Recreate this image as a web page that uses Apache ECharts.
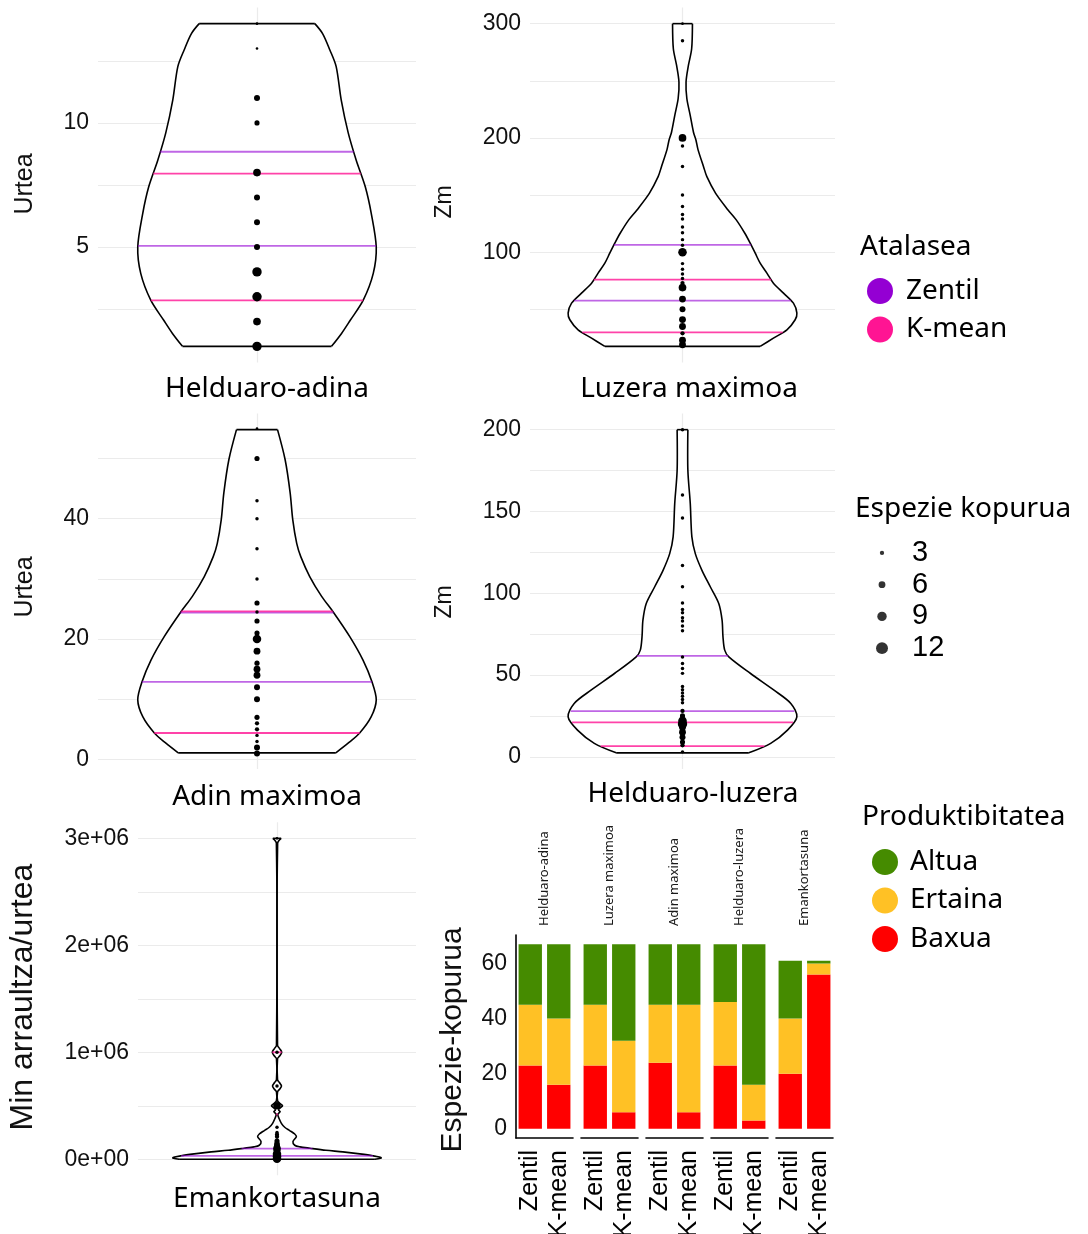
<!DOCTYPE html>
<html>
<head>
<meta charset="utf-8">
<script src="https://cdn.jsdelivr.net/npm/echarts@6/dist/echarts.min.js"></script>
<style>
html, body { margin: 0; padding: 0; background: #fff; }
#chart { width: 1088px; height: 1234px; }
</style>
</head>
<body>
<div id="chart"></div>
<script>
// ---------- data ----------
const violinNames = ['Helduaro-adina', 'Luzera maximoa', 'Adin maximoa', 'Helduaro-luzera', 'Emankortasuna'];
const violinTitles = ['Urtea', 'Zm', 'Urtea', 'Zm', 'Min arraultza/urtea'];

// violin outlines: [value, half-width relative to the widest point]
const profileHelduaroAdina = [[1, 0.625], [1.52, 0.709], [2.05, 0.782], [2.86, 0.891], [3.94, 0.975], [5.0, 1], [6.36, 0.958], [7.43, 0.908], [8.5, 0.832], [9.6, 0.765], [10.93, 0.706], [12.27, 0.664], [12.94, 0.611], [13.6, 0.55], [14, 0.485]];
const profileLuzeraMaximoa = [[17.6, 0.679], [24.8, 0.795], [32.1, 0.913], [40.9, 0.985], [46.7, 1], [55.4, 0.97], [64.2, 0.883], [72.9, 0.795], [81.7, 0.738], [90.4, 0.679], [99.1, 0.636], [107.9, 0.592], [116.6, 0.545], [128.3, 0.47], [137, 0.398], [151.5, 0.29], [166.1, 0.213], [174.8, 0.184], [190, 0.135], [198, 0.118], [205, 0.096], [220, 0.067], [234.5, 0.038], [249, 0.031], [263.6, 0.052], [278, 0.08], [300, 0.087]];
const profileAdinMaximoa = [[1.1, 0.661], [2.7, 0.764], [4.4, 0.861], [7.1, 0.958], [9.9, 1], [12.9, 0.964], [16.5, 0.889], [20.4, 0.778], [24.5, 0.639], [27.1, 0.542], [30.4, 0.442], [33.7, 0.367], [35.9, 0.333], [39.8, 0.3], [44.3, 0.278], [49.8, 0.236], [54.8, 0.172]];
const profileHelduaroLuzera = [[2.4, 0.58], [8.2, 0.771], [16.3, 0.918], [24.4, 1], [32.6, 0.947], [40.7, 0.8], [50.9, 0.595], [61.1, 0.405], [65.2, 0.369], [73.3, 0.354], [83.5, 0.346], [93.7, 0.317], [103.8, 0.244], [114, 0.17], [124.2, 0.112], [134.4, 0.082], [154.8, 0.068], [175, 0.047], [200, 0.047]];
const profileEmankortasuna = [[0, 0.939], [13000, 1], [32000, 0.92], [50000, 0.795], [69000, 0.632], [84000, 0.469], [103000, 0.316], [116000, 0.22], [131000, 0.17], [165000, 0.153], [211000, 0.186], [236000, 0.17], [268000, 0.122], [299000, 0.074], [336000, 0.042], [383000, 0.019], [420000, 0.008], [445000, 0.03], [460000, 0.015], [480000, 0.03], [500000, 0.053], [520000, 0.03], [545000, 0.006], [630000, 0.005], [655000, 0.025], [685000, 0.043], [715000, 0.025], [745000, 0.005], [940000, 0.005], [965000, 0.025], [1000000, 0.045], [1035000, 0.025], [1065000, 0.005], [2955000, 0.006], [3000000, 0.04]];

// species per value: [value, number of species]
const pointsHelduaroAdina = [[14, 1], [13, 1], [11, 5], [10, 4], [8, 7], [7, 5], [6, 5], [5, 5], [4, 9], [3, 9], [2, 7], [1, 9]];
const pointsLuzeraMaximoa = [[300, 1], [285, 2], [200, 7], [193, 2], [175, 2], [150, 2], [140, 2], [133, 2], [129, 2], [122, 2], [117, 2], [111, 2], [106, 2], [100, 8], [90, 2], [85, 2], [81, 2], [77, 2], [73, 3], [69, 7], [59, 6], [50, 5], [41, 6], [35, 6], [29, 3], [23, 6], [19, 6]];
const pointsAdinMaximoa = [[55, 1], [50, 4], [43, 2], [40, 2], [35, 2], [30, 2], [26, 4], [24.5, 2], [23, 4], [21, 4], [20, 8], [18, 6], [16, 4], [15, 6], [14, 6], [12, 5], [10, 5], [7, 4], [6, 3], [5, 3], [4, 2], [3, 2], [2, 5], [1, 5]];
const pointsHelduaroLuzera = [[200, 2], [160, 2], [146, 2], [117, 2], [104, 2], [94, 2], [90, 2], [88, 2], [85, 2], [83, 2], [80, 2], [77, 2], [61, 2], [57, 2], [54, 2], [51, 2], [43, 2], [41, 2], [39, 2], [37, 2], [35, 2], [33, 2], [28, 3], [25, 4], [22, 8], [20, 9], [18, 6], [15, 6], [12, 5], [9, 4], [7, 3], [3, 2]];
const pointsEmankortasuna = [[3000000, 1], [1000000, 2], [685000, 2], [500000, 7], [300000, 2], [250000, 2], [230000, 3], [210000, 3], [170000, 4], [150000, 4], [130000, 5], [100000, 7], [80000, 6], [50000, 8], [25000, 8], [5000, 8]];

// thresholds of each method
const zentilThresholds = [[5.05, 8.84], [57.7, 106.4], [12.9, 24.4], [27.9, 61.7], [32000, 100000]];
const kmeanThresholds = [[2.85, 7.96], [29.8, 76], [4.4, 24.6], [6.5, 21], [420000, 1000000]];

// y ticks (gridlines) and labelled ticks
const gridTicks = [[2.5, 5, 7.5, 10, 12.5], [50, 100, 150, 200, 250, 300], [0, 10, 20, 30, 40, 50], [0, 25, 50, 75, 100, 125, 150, 175, 200], [0, 500000, 1000000, 1500000, 2000000, 2500000, 3000000]];
const labelTicks = [[5, 10], [100, 200, 300], [0, 20, 40], [0, 50, 100, 150, 200], [0, 1000000, 2000000, 3000000]];

// productivity counts per variable
const methods = ['Zentil', 'K-mean'];
const zentilBaxua = [23, 23, 24, 23, 20];
const zentilErtaina = [22, 22, 21, 23, 20];
const zentilAltua = [22, 22, 22, 21, 21];
const kmeanBaxua = [16, 6, 6, 3, 56];
const kmeanErtaina = [24, 26, 39, 13, 4];
const kmeanAltua = [27, 35, 22, 51, 1];
const barTicks = [0, 20, 40, 60];

const sizeBreaks = [3, 6, 9, 12];

// ---------- helpers ----------
const NUM = '"Liberation Sans", Arial, sans-serif';
const TXT = '"Noto Sans", "DejaVu Sans", sans-serif';
const HALF = 0.45;
const ZENTIL_COLOR = '#9400D3';
const KMEAN_COLOR = '#FF1493';
const LEVEL_COLORS = { Altua: '#458B00', Ertaina: '#FFC125', Baxua: '#FF0000' };

function dotSize(n) { return 2.6 + 0.85 * (n - 1); }
function expandRange(profile, frac) {
  const lo = profile[0][0], hi = profile[profile.length - 1][0], pad = (hi - lo) * frac;
  return [lo - pad, hi + pad];
}
function widthAt(profile, v) {
  for (let i = 1; i < profile.length; i++) {
    if (v <= profile[i][0]) {
      const a = profile[i - 1], b = profile[i];
      return a[1] + (b[1] - a[1]) * (v - a[0]) / (b[0] - a[0]);
    }
  }
  return profile[profile.length - 1][1];
}
function sci(v) {
  if (v === 0) return '0e+00';
  const e = Math.floor(Math.log10(Math.abs(v)));
  const m = +(v / Math.pow(10, e)).toFixed(2);
  return m + 'e' + (e < 0 ? '-' : '+') + String(Math.abs(e)).padStart(2, '0');
}

const profiles = [profileHelduaroAdina, profileLuzeraMaximoa, profileAdinMaximoa, profileHelduaroLuzera, profileEmankortasuna];
const pointSets = [pointsHelduaroAdina, pointsLuzeraMaximoa, pointsAdinMaximoa, pointsHelduaroLuzera, pointsEmankortasuna];

// panel boxes (pixels)
const violinBoxes = [
  { left: 98, top: 7.5, width: 318, height: 355 },
  { left: 530, top: 7.5, width: 305, height: 355 },
  { left: 98, top: 413.5, width: 318, height: 355.5 },
  { left: 530, top: 413.5, width: 305, height: 355.5 },
  { left: 138, top: 822.3, width: 278, height: 353 }
];
const facetBoxes = [0, 1, 2, 3, 4].map(i => ({ left: 516 + 65 * i, top: 935, width: 57, height: 203 }));

const grids = [], xAxes = [], yAxes = [], series = [];
const gridLineColor = '#EBEBEB';
function makeGrid(box) {
  return Object.assign({ containLabel: false, outerBoundsMode: 'none' }, box);
}

// ---------- violin panels ----------
profiles.forEach((prof, i) => {
  grids.push(makeGrid(violinBoxes[i]));
  xAxes.push({
    type: 'value', gridIndex: i, min: -0.6, max: 0.6,
    axisLine: { show: false }, axisLabel: { show: false },
    axisTick: { show: false, customValues: [0] },
    splitLine: { show: true, lineStyle: { color: gridLineColor, width: 1.2 } }
  });
  const ext = expandRange(prof, 0.05);
  yAxes.push({
    type: 'value', gridIndex: i, min: ext[0], max: ext[1],
    axisLine: { show: false },
    axisTick: { show: false, customValues: gridTicks[i] },
    axisLabel: {
      customValues: labelTicks[i], margin: 9, color: '#111',
      fontSize: 23, fontFamily: NUM, padding: [3, 0, 0, 0],
      formatter: i === 4 ? sci : (v => String(v))
    },
    splitLine: { show: true, lineStyle: { color: gridLineColor, width: 1.2 } }
  });

  // outline
  series.push({
    type: 'custom', xAxisIndex: i, yAxisIndex: i, z: 2, silent: true,
    data: [[0, prof[0][0]]],
    renderItem: (params, api) => {
      const right = prof.map(p => api.coord([p[1] * HALF, p[0]]));
      const left = prof.map(p => api.coord([-p[1] * HALF, p[0]]));
      const outline = right.concat(left.slice().reverse());
      const edge = { stroke: '#000', lineWidth: 1.6, fill: null };
      const n = prof.length - 1;
      return {
        type: 'group', children: [
          { type: 'polygon', shape: { points: outline }, style: { fill: '#fff', stroke: null } },
          { type: 'polyline', shape: { points: right, smooth: 0.3 }, style: edge },
          { type: 'polyline', shape: { points: left, smooth: 0.3 }, style: edge },
          { type: 'line', shape: { x1: left[0][0], y1: left[0][1], x2: right[0][0], y2: right[0][1] }, style: edge },
          { type: 'line', shape: { x1: left[n][0], y1: left[n][1], x2: right[n][0], y2: right[n][1] }, style: edge }
        ]
      };
    }
  });

  // threshold lines
  [['Zentil', zentilThresholds[i], ZENTIL_COLOR, 0.6], ['K-mean', kmeanThresholds[i], KMEAN_COLOR, 0.8]].forEach(([name, vals, color, op]) => {
    series.push({
      type: 'custom', name: name, xAxisIndex: i, yAxisIndex: i, z: 3, silent: true,
      itemStyle: { color: color },
      data: vals.map(v => [0, v]),
      renderItem: (params, api) => {
        const v = api.value(1);
        const w = widthAt(prof, v) * HALF;
        const a = api.coord([-w, v]), b = api.coord([w, v]);
        return {
          type: 'line',
          shape: { x1: a[0], y1: a[1], x2: b[0], y2: b[1] },
          style: { stroke: color, lineWidth: 1.8, opacity: op }
        };
      }
    });
  });

  // species counts
  series.push({
    type: 'scatter', xAxisIndex: i, yAxisIndex: i, z: 4, silent: true,
    symbol: 'circle',
    symbolSize: d => dotSize(d[2]),
    itemStyle: { color: '#000', opacity: 1 },
    data: pointSets[i].map(p => [0, p[0], p[1]])
  });
});

// ---------- productivity facets ----------
const stacks = [
  ['Baxua', zentilBaxua, kmeanBaxua],
  ['Ertaina', zentilErtaina, kmeanErtaina],
  ['Altua', zentilAltua, kmeanAltua]
];
const barTotal = Math.max(...zentilBaxua.map((v, k) => v + zentilErtaina[k] + zentilAltua[k]));
facetBoxes.forEach((box, f) => {
  const gi = 5 + f;
  grids.push(makeGrid(box));
  xAxes.push({
    type: 'category', gridIndex: gi, data: methods,
    axisLine: { show: true, onZero: false, lineStyle: { color: '#000', width: 1.6 } },
    axisTick: { show: false },
    axisLabel: { interval: 0, rotate: 90, margin: 12, fontSize: 25, fontFamily: NUM, color: '#000' },
    splitLine: { show: false }
  });
  yAxes.push({
    type: 'value', gridIndex: gi, min: -barTotal * 0.05, max: barTotal * 1.05,
    axisLine: { show: f === 0, lineStyle: { color: '#000', width: 1.6 } },
    axisTick: { show: false, customValues: barTicks },
    axisLabel: { show: f === 0, customValues: barTicks, margin: 9, fontSize: 23, fontFamily: NUM, color: '#111', padding: [3, 0, 0, 0] },
    splitLine: { show: false }
  });
  stacks.forEach(([level, zArr, kArr]) => {
    series.push({
      type: 'bar', name: level, xAxisIndex: gi, yAxisIndex: gi, stack: 'facet' + f,
      barWidth: '82%', silent: true,
      itemStyle: { color: LEVEL_COLORS[level] },
      data: [zArr[f], kArr[f]]
    });
  });
});

// ---------- size key ----------
const sizeGrid = grids.length;
grids.push(makeGrid({ left: 872, top: 537, width: 20, height: 127 }));
xAxes.push({ type: 'value', gridIndex: sizeGrid, min: -1, max: 1, show: false });
yAxes.push({
  type: 'category', gridIndex: sizeGrid, inverse: true, position: 'right',
  data: sizeBreaks.map(String),
  axisLine: { show: false }, axisTick: { show: false }, splitLine: { show: false },
  axisLabel: { interval: 0, margin: 20, fontSize: 29, fontFamily: NUM, color: '#000' }
});
series.push({
  type: 'scatter', xAxisIndex: sizeGrid, yAxisIndex: sizeGrid, silent: true,
  symbol: 'circle', symbolSize: d => dotSize(d[2]),
  itemStyle: { color: '#000' },
  data: sizeBreaks.map((b, k) => [0, k, b])
});

// ---------- texts ----------
const texts = [];
function addText(text, x, y, opts) {
  texts.push({
    type: 'text', x: x, y: y, rotation: opts.rot || 0, silent: true,
    style: {
      text: text, fill: opts.color || '#000', fontSize: opts.size, fontFamily: opts.font,
      align: opts.align || 'center', verticalAlign: 'middle',
      textAlign: opts.align || 'center', textVerticalAlign: 'middle'
    }
  });
}
const catLabelPos = [[267, 389], [689, 389], [267, 797], [693, 794], [277, 1199]];
violinNames.forEach((n, i) => addText(n, catLabelPos[i][0], catLabelPos[i][1], { size: 28, font: TXT }));
const yTitlePos = [[25, 184, 25], [445, 202, 23], [25, 587, 25], [445, 602, 23], [23, 997, 32]];
violinTitles.forEach((t, i) => addText(t, yTitlePos[i][0], yTitlePos[i][1], { size: yTitlePos[i][2], font: NUM, rot: Math.PI / 2, color: '#111' }));
addText('Espezie-kopurua', 453, 1040, { size: 30, font: NUM, rot: Math.PI / 2, color: '#111' });
// facet strips
violinNames.forEach((n, f) => {
  const b = facetBoxes[f];
  addText(n, b.left + b.width / 2, 926, { size: 13, font: TXT, rot: Math.PI / 2, align: 'left', color: '#1a1a1a' });
});
// legend titles
addText('Atalasea', 860, 247, { size: 28, font: TXT, align: 'left' });
addText('Espezie kopurua', 855, 509, { size: 28, font: TXT, align: 'left' });
addText('Produktibitatea', 862, 817, { size: 28, font: TXT, align: 'left' });

const legendText1 = { fontSize: 28, fontFamily: TXT, color: '#000', padding: [0, 0, 0, 8] };
const legendText2 = { fontSize: 28, fontFamily: TXT, color: '#000', padding: [0, 0, 0, 7] };

const option = {
  backgroundColor: '#fff',
  animation: false,
  grid: grids,
  xAxis: xAxes,
  yAxis: yAxes,
  series: series,
  legend: [
    {
      data: ['Zentil', 'K-mean'], orient: 'vertical', left: 862, top: 272,
      icon: 'circle', itemWidth: 26, itemHeight: 26, itemGap: 10.5,
      selectedMode: false, textStyle: legendText1
    },
    {
      data: ['Altua', 'Ertaina', 'Baxua'], orient: 'vertical', left: 867, top: 843,
      icon: 'circle', itemWidth: 26, itemHeight: 26, itemGap: 10.5,
      selectedMode: false, textStyle: legendText2
    }
  ],
  graphic: texts
};

const chart = echarts.init(document.getElementById('chart'), null, { renderer: 'canvas' });
chart.setOption(option);
</script>
</body>
</html>
